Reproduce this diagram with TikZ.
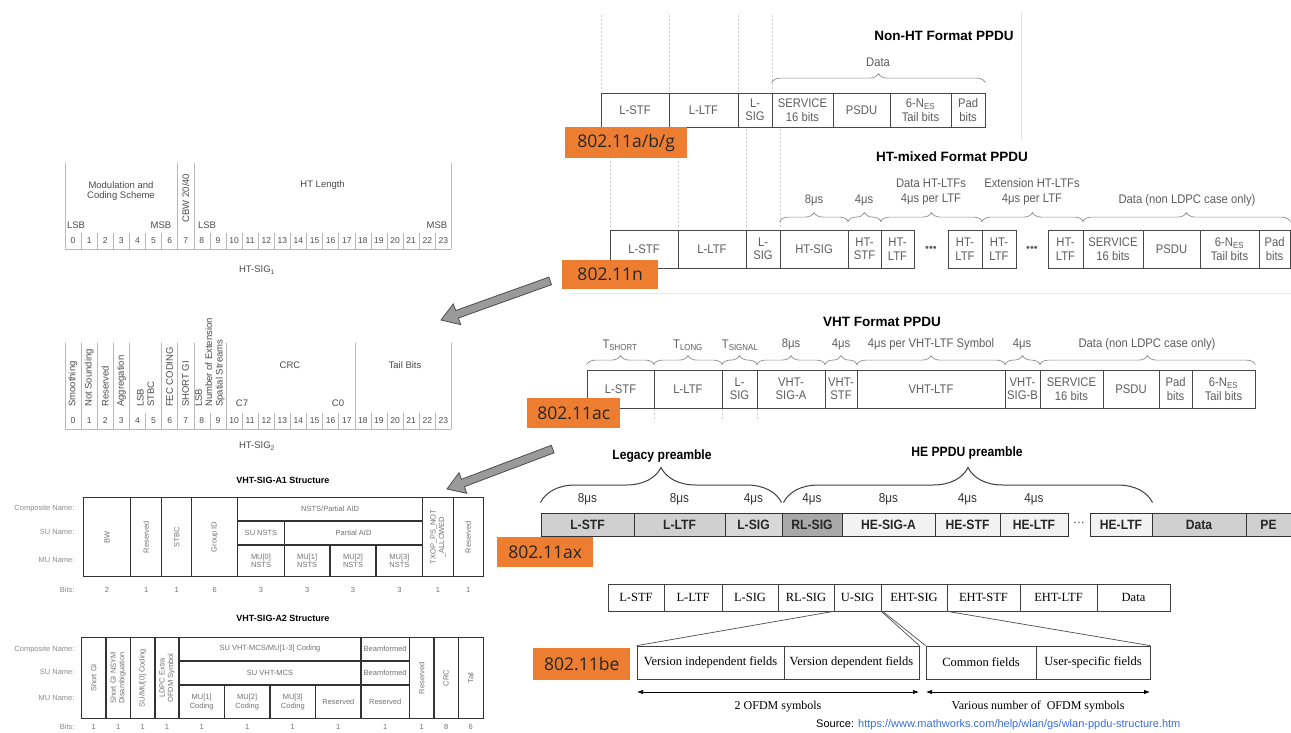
\documentclass[tikz,border=0pt]{standalone}
\usepackage{fontspec}
\setmainfont{Liberation Sans}
\newfontfamily\nar[FakeStretch=0.9]{Liberation Sans}
\newfontfamily\serf{Liberation Serif}
\newfontfamily\lbl{Open Sans}
\usetikzlibrary{decorations.pathreplacing,arrows.meta}
\definecolor{orng}{HTML}{ED7D31}
\definecolor{txg}{HTML}{5E5E5E}
\definecolor{lg}{HTML}{8C8C8C}
\definecolor{heA}{HTML}{D0D0D0}
\definecolor{heB}{HTML}{D8D8D8}
\definecolor{heC}{HTML}{A8A8A8}
\definecolor{heD}{HTML}{F2F2F2}
\definecolor{urlc}{HTML}{3A6FD8}
\definecolor{arrg}{HTML}{9A9A9A}
\newcommand\fs[2]{\fontsize{#1}{#2}\selectfont}
\newcommand\fb[7][]{\node[fld,#1,minimum width={#4-#3},minimum height={#6-#5}] (#2) at ({(#3+#4)/2},{(#5+#6)/2}) {#7};}
\tikzset{
  fld/.style={draw=black!72,line width=0.8pt,inner sep=0pt,align=center,text=txg,font=\nar\fs{12.5}{13.5}},
  hefld/.style={draw=black!80,line width=1pt,text=black!85,font=\nar\bfseries\fs{13.5}{14}},
  befld/.style={draw=black!75,line width=0.7pt,text=black,font=\serf\fs{12.5}{13}},
  tag/.style={fill=orng,text=black!85,font=\lbl\fs{17.5}{17.5},inner sep=0pt,anchor=north west},
  brc/.style={decorate,decoration={brace,amplitude=9pt},draw=lg,line width=0.7pt},
  bigbrc/.style={decorate,decoration={brace,amplitude=35pt},draw=black!75,line width=1pt},
  lab/.style={text=txg,font=\nar\fs{12.5}{15},align=center},
  helab/.style={text=black!80,font=\nar\fs{13}{13}},
  hettl/.style={text=black,font=\nar\bfseries\fs{13.5}{14}},
  ttl/.style={font=\bfseries\fs{13.5}{14},text=black},
  bgd/.style={draw=gray!40,dash pattern=on 2pt off 2pt,line width=0.6pt},
  sl/.style={draw=black!28,line width=0.6pt},
  st/.style={text=black!70,font=\fs{9.5}{10.5},align=center},
  bitn/.style={text=black!70,font=\fs{8.5}{9}},
  rot/.style={text=black!70,font=\fs{9.5}{10.3},align=left,rotate=90,anchor=west,inner sep=0pt},
  tl/.style={draw=black!80,line width=1.1pt},
  tt/.style={text=black!55,font=\fs{7.5}{8.5},align=center},
  trot/.style={tt,rotate=90},
  rl/.style={text=black!45,font=\fs{7.5}{8.5},anchor=east},
  stt/.style={font=\bfseries\fs{9}{10},text=black},
  beln/.style={draw=black!70,line width=0.7pt},
  bela/.style={text=black,font=\serf\fs{12}{12}},
  ofa/.style={draw=black,line width=0.8pt,{Latex[length=6pt,width=4.5pt]}-{Latex[length=6pt,width=4.5pt]}},
  blk/.style={fill=arrg,draw=black!70,line width=0.8pt,line join=miter},
}
\begin{document}
\begin{tikzpicture}[x=1pt,y=-1pt]
\useasboundingbox (0,0) rectangle (1291,732);
\fill[white] (0,0) rectangle (1291,732);

% ---------- background dashed guide lines ----------
\foreach \xx in {601,669,738,772} \draw[bgd] (\xx,15) -- (\xx,92);
\draw[draw=gray!22,line width=0.6pt] (1021,12) -- (1021,140);
\foreach \xx in {610,678,746,780} \draw[bgd] (\xx,129) -- (\xx,229);
\foreach \xx in {654,722,757} \draw[bgd] (\xx,409) -- (\xx,421);
\draw[draw=gray!18,line width=0.6pt] (570,293) -- (1291,293);

% ---------- Non-HT ----------
\node[ttl] (nT) at (944,36) {Non-HT Format PPDU};
\fb{n1}{601}{669}{93}{127}{L-STF}
\fb{n2}{669}{738}{93}{127}{L-LTF}
\fb{n3}{738}{772}{93}{127}{L-\\SIG}
\fb{n4}{772}{833}{93}{127}{SERVICE\\16 bits}
\fb{n5}{833}{890}{93}{127}{PSDU}
\fb{n6}{890}{951}{93}{127}{6-N\textsubscript{ES}\\Tail bits}
\fb{n7}{951}{985}{93}{127}{Pad\\bits}
\draw[brc] ([yshift=10pt]n4.north west) -- ([yshift=10pt]n7.north east);
\node[lab] (nData) at (878,62) {Data};

% ---------- HT-mixed ----------
\node[ttl] (hT) at (952,157) {HT-mixed Format PPDU};
\fb{h1}{610}{678}{230}{268}{L-STF}
\fb{h2}{678}{746}{230}{268}{L-LTF}
\fb{h3}{746}{780}{230}{268}{L-\\SIG}
\fb{h4}{780}{848}{230}{268}{HT-SIG}
\fb{h5}{848}{881}{230}{268}{HT-\\STF}
\fb{h6}{881}{914}{230}{268}{HT-\\LTF}
\node[lab,font=\fs{11}{11}] (hd1) at (931,249) {•••};
\fb{h7}{948}{982}{230}{268}{HT-\\LTF}
\fb{h8}{982}{1016}{230}{268}{HT-\\LTF}
\node[lab,font=\fs{11}{11}] (hd2) at (1032,249) {•••};
\fb{h9}{1048}{1083}{230}{268}{HT-\\LTF}
\fb{h10}{1083}{1143}{230}{268}{SERVICE\\16 bits}
\fb{h11}{1143}{1200}{230}{268}{PSDU}
\fb{h12}{1200}{1259}{230}{268}{6-N\textsubscript{ES}\\Tail bits}
\fb{h13}{1259}{1290}{230}{268}{Pad\\bits}
\draw[brc] ([yshift=8pt]h4.north west) -- ([yshift=8pt]h4.north east);
\draw[brc] ([yshift=8pt]h5.north west) -- ([yshift=8pt]h5.north east);
\draw[brc] ([yshift=8pt]h6.north west) -- ([yshift=8pt]h7.north east);
\draw[brc] ([yshift=8pt]h8.north west) -- ([yshift=8pt]h9.north east);
\draw[brc] ([yshift=8pt]h10.north west) -- ([yshift=8pt]h13.north east);
\node[lab] (hl1) at (814,200) {8μs};
\node[lab] (hl2) at (864,200) {4μs};
\node[lab] (hl3) at (931,192) {Data HT-LTFs\\4μs per LTF};
\node[lab] (hl4) at (1032,192) {Extension HT-LTFs\\4μs per LTF};
\node[lab] (hl5) at (1187,200) {Data (non LDPC case only)};

% ---------- VHT ----------
\node[ttl] (vT) at (882,322) {VHT Format PPDU};
\fb{v1}{587}{654}{370}{408}{L-STF}
\fb{v2}{654}{722}{370}{408}{L-LTF}
\fb{v3}{722}{757}{370}{408}{L-\\SIG}
\fb{v4}{757}{825}{370}{408}{VHT-\\SIG-A}
\fb{v5}{825}{857}{370}{408}{VHT-\\STF}
\fb{v6}{857}{1005}{370}{408}{VHT-LTF}
\fb{v7}{1005}{1040}{370}{408}{VHT-\\SIG-B}
\fb{v8}{1040}{1103}{370}{408}{SERVICE\\16 bits}
\fb{v9}{1103}{1159}{370}{408}{PSDU}
\fb{v10}{1159}{1192}{370}{408}{Pad\\bits}
\fb{v11}{1192}{1255}{370}{408}{6-N\textsubscript{ES}\\Tail bits}
\foreach \b in {v1,v2,v3,v4,v5,v6,v7}
  \draw[brc] ([yshift=5pt]\b.north west) -- ([yshift=5pt]\b.north east);
\draw[brc] ([yshift=5pt]v8.north west) -- ([yshift=5pt]v11.north east);
\node[lab] (vl1) at (620,345) {T\textsubscript{SHORT}};
\node[lab] (vl2) at (688,345) {T\textsubscript{LONG}};
\node[lab] (vl3) at (740,345) {T\textsubscript{SIGNAL}};
\node[lab] (vl4) at (791,344) {8μs};
\node[lab] (vl5) at (841,344) {4μs};
\node[lab] (vl6) at (931,344) {4μs per VHT-LTF Symbol};
\node[lab] (vl7) at (1022,344) {4μs};
\node[lab] (vl8) at (1147,344) {Data (non LDPC case only)};

% ---------- HE (802.11ax) ----------
\node[hettl] (legT) at (662,456) {Legacy preamble};
\node[hettl] (heT) at (967,453) {HE PPDU preamble};
\fb[hefld,fill=heA]{x1}{541}{634}{513}{536}{L-STF}
\fb[hefld,fill=heA]{x2}{634}{725}{513}{536}{L-LTF}
\fb[hefld,fill=heB]{x3}{725}{782}{513}{536}{L-SIG}
\fb[hefld,fill=heC]{x4}{782}{842}{513}{536}{RL-SIG}
\fb[hefld,fill=heD]{x5}{842}{935}{513}{536}{HE-SIG-A}
\fb[hefld,fill=heD]{x6}{935}{1000}{513}{536}{HE-STF}
\fb[hefld,fill=heD]{x7}{1000}{1068}{513}{536}{HE-LTF}
\node[helab] (xd) at (1079,524) {···};
\fb[hefld,fill=heD]{x8}{1090}{1152}{513}{536}{HE-LTF}
\fb[hefld,fill=heA]{x9}{1152}{1246}{513}{536}{Data}
\fb[hefld,fill=heA]{x10}{1246}{1291}{513}{536}{PE}
\draw[bigbrc] ([yshift=10pt]x1.north west) -- ([xshift=-1pt,yshift=10pt]x3.north east);
\draw[bigbrc] ([xshift=2pt,yshift=10pt]x4.north west) -- ([yshift=10pt]x8.north east);
\foreach \b/\t in {x1/8μs,x2/8μs,x3/4μs,x4/4μs,x5/8μs,x6/4μs,x7/4μs}
  \node[helab] (t\b) at ([yshift=25pt]\b.center) {\t};

% ---------- EHT (802.11be) ----------
\fb[befld]{e1}{608}{664}{584}{611}{L-STF}
\fb[befld]{e2}{664}{722}{584}{611}{L-LTF}
\fb[befld]{e3}{722}{778}{584}{611}{L-SIG}
\fb[befld]{e4}{778}{834}{584}{611}{RL-SIG}
\fb[befld]{e5}{834}{881}{584}{611}{U-SIG}
\fb[befld]{e6}{881}{947}{584}{611}{EHT-SIG}
\fb[befld]{e7}{947}{1020}{584}{611}{EHT-STF}
\fb[befld]{e8}{1020}{1097}{584}{611}{EHT-LTF}
\fb[befld]{e9}{1097}{1170}{584}{611}{Data}
\fb[befld]{f1}{637}{784}{646}{679}{Version independent fields}
\fb[befld]{f2}{784}{919}{646}{679}{Version dependent fields}
\fb[befld]{f3}{926}{1036}{646}{679}{Common fields}
\fb[befld]{f4}{1036}{1150}{646}{679}{User-specific fields}
\draw[beln] (e5.south west) -- (f1.north west);
\draw[beln] (e5.south east) -- (f2.north east);
\draw[beln] ([xshift=2pt]e6.south west) -- (f3.north west);
\draw[beln] (e6.south east) -- (f4.north east);
\coordinate (oa1) at (637,692);
\coordinate (oa2) at (919,692);
\coordinate (ob1) at (926,692);
\coordinate (ob2) at (1150,692);
\draw[ofa] (oa1) -- (oa2);
\draw[ofa] (ob1) -- (ob2);
\node[bela] (ol1) at (778,707) {2 OFDM symbols};
\node[bela] (ol2) at (1038,707) {Various number of\ \ OFDM symbols};
\node[anchor=west,font=\fs{11}{11},inner sep=0pt] (src) at (816,725) {Source: \textcolor{urlc}{https://www.mathworks.com/help/wlan/gs/wlan-ppdu-structure.htm}};

% ---------- HT-SIG1 ----------
\foreach \i in {1,...,6} \draw[sl] ({65+16.1*\i},233) -- ({65+16.1*\i},249);
\foreach \i in {9,...,23} \draw[sl] ({65+16.1*\i},233) -- ({65+16.1*\i},249);
\foreach \i in {0,7,8,24} \draw[sl] ({65+16.1*\i},163) -- ({65+16.1*\i},249);
\draw[sl] (65,249) -- (451.4,249);
\foreach \i in {0,...,23} \node[bitn] (ba\i) at ({65+16.1*(\i+0.5)},241) {\i};
\node[st] (mcs) at (121,191) {Modulation and\\Coding Scheme};
\node[st] (htl) at (322.6,185) {HT Length};
\node[st,rotate=90] (cbw) at (185.7,198) {CBW 20/40};
\node[st] (l1) at (76,225) {LSB};
\node[st] (m1) at (161,225) {MSB};
\node[st] (l2) at (207,225) {LSB};
\node[st] (m2) at (437,225) {MSB};
\node[st] (hs1) at (257,270) {HT-SIG\textsubscript{1}};

% ---------- HT-SIG2 ----------
\foreach \i in {5,9,11,12,13,14,15,16,17,19,20,21,22,23} \draw[sl] ({65+16.1*\i},413) -- ({65+16.1*\i},429);
\foreach \i in {0,1,2,3,4,6,7,8,10,18,24} \draw[sl] ({65+16.1*\i},343) -- ({65+16.1*\i},429);
\draw[sl] (65,429) -- (451.4,429);
\foreach \i in {0,...,23} \node[bitn] (bb\i) at ({65+16.1*(\i+0.5)},421) {\i};
\node[rot] (r0) at (73,407) {Smoothing};
\node[rot] (r1) at (89.2,407) {Not Sounding};
\node[rot] (r2) at (105.3,407) {Reserved};
\node[rot] (r3) at (121.4,407) {Aggregation};
\node[rot] (r45) at (145.6,407) {LSB\\STBC};
\node[rot] (r6) at (169.6,407) {FEC CODING};
\node[rot] (r7) at (185.7,407) {SHORT GI};
\node[rot] (r89) at (209.9,407) {LSB\\Number of Extension\\Spatial Streams};
\node[st] (crc) at (290,365) {CRC};
\node[st] (tb) at (405,365) {Tail Bits};
\node[st] (c7) at (242,403) {C7};
\node[st] (c0) at (338,403) {C0};
\node[st] (hs2) at (257,446) {HT-SIG\textsubscript{2}};

% ---------- VHT-SIG-A1 ----------
\node[stt] (a1T) at (283,480) {VHT-SIG-A1 Structure};
\draw[tl] (83.3,497.3) rectangle (483.3,576.7);
\foreach \xx in {130.7,161.7,191.7,237.7,422.7,453.3} \draw[tl] (\xx,497.3) -- (\xx,576.7);
\draw[tl] (237.7,521) -- (422.7,521);
\draw[tl] (237.7,545) -- (422.7,545);
\draw[tl] (284.3,521) -- (284.3,576.7);
\foreach \xx in {330,376} \draw[tl] (\xx,545) -- (\xx,576.7);
\node[tt] (a1c) at (330.2,509) {NSTS/Partial AID};
\node[tt] (a1s1) at (261,533) {SU NSTS};
\node[tt] (a1s2) at (353.5,533) {Partial AID};
\node[tt] (a1m0) at (261,561) {MU[0]\\NSTS};
\node[tt] (a1m1) at (307.2,561) {MU[1]\\NSTS};
\node[tt] (a1m2) at (353,561) {MU[2]\\NSTS};
\node[tt] (a1m3) at (399.4,561) {MU[3]\\NSTS};
\node[trot] (a1bw) at (107,537) {BW};
\node[trot] (a1r1) at (146.2,537) {Reserved};
\node[trot] (a1st) at (176.7,537) {STBC};
\node[trot] (a1g) at (214.7,537) {Group ID};
\node[trot] (a1tx) at (438,537) {TXOP\_PS\_NOT\\\_ALLOWED};
\node[trot] (a1r2) at (468.3,537) {Reserved};
\node[rl] (a1l1) at (78,509) {Composite Name:};
\node[rl] (a1l2) at (78,532) {SU Name:};
\node[rl] (a1l3) at (78,560) {MU Name:};
\node[rl] (a1l4) at (78,590) {Bits:};
\foreach \xx/\v [count=\k] in {107/2,146.2/1,176.7/1,214.7/6,261/3,307.2/3,353/3,399.4/3,438/1,468.3/1}
  \node[tt] (a1b\k) at (\xx,590) {\v};

% ---------- VHT-SIG-A2 ----------
\node[stt] (a2T) at (283,618) {VHT-SIG-A2 Structure};
\draw[tl] (81.7,637.3) rectangle (483.3,718.3);
\foreach \xx in {106,130.7,155,179,361,409.3,434,458.3} \draw[tl] (\xx,637.3) -- (\xx,718.3);
\draw[tl] (179,661) -- (409.3,661);
\draw[tl] (179,685) -- (409.3,685);
\foreach \xx in {224.3,270,315.7} \draw[tl] (\xx,685) -- (\xx,718.3);
\node[tt] (a2c1) at (270,649) {SU VHT-MCS/MU[1-3] Coding};
\node[tt] (a2c2) at (385.2,649) {Beamformed};
\node[tt] (a2s1) at (270,673) {SU VHT-MCS};
\node[tt] (a2s2) at (385.2,673) {Beamformed};
\node[tt] (a2m1) at (201.7,702) {MU[1]\\Coding};
\node[tt] (a2m2) at (247.2,702) {MU[2]\\Coding};
\node[tt] (a2m3) at (292.8,702) {MU[3]\\Coding};
\node[tt] (a2m4) at (338.3,702) {Reserved};
\node[tt] (a2m5) at (385.2,702) {Reserved};
\node[trot] (a2r1) at (93.8,678) {Short GI};
\node[trot] (a2r2) at (118.3,678) {Short GI NSYM\\Disambiguation};
\node[trot] (a2r3) at (142.8,678) {SU/MU[0] Coding};
\node[trot] (a2r4) at (167,678) {LDPC Extra\\OFDM Symbol};
\node[trot] (a2r5) at (421.6,678) {Reserved};
\node[trot] (a2r6) at (446.1,678) {CRC};
\node[trot] (a2r7) at (470.8,678) {Tail};
\node[rl] (a2l1) at (78,650) {Composite Name:};
\node[rl] (a2l2) at (78,672) {SU Name:};
\node[rl] (a2l3) at (78,698) {MU Name:};
\node[rl] (a2l4) at (78,727) {Bits:};
\foreach \xx/\v [count=\k] in {93.8/1,118.3/1,142.8/1,167/1,201.7/1,247.2/1,292.8/1,338.3/1,385.2/1,421.6/1,446.1/8,470.8/6}
  \node[tt] (a2b\k) at (\xx,727) {\v};

% ---------- block arrows ----------
\begin{scope}[shift={(441,320)},rotate=19.7]
\draw[blk] (0,0) -- (17,-11) -- (17,-4) -- (116,-4) -- (116,4) -- (17,4) -- (17,11) -- cycle;
\end{scope}
\begin{scope}[shift={(447,489)},rotate=20.7]
\draw[blk] (0,0) -- (17,-11) -- (17,-4) -- (113,-4) -- (113,4) -- (17,4) -- (17,11) -- cycle;
\end{scope}

% ---------- orange tags ----------
\node[tag,minimum width=122,minimum height=31] (tg1) at (565,127) {802.11a/b/g};
\node[tag,minimum width=96,minimum height=29] (tg2) at (562,260) {802.11n};
\node[tag,minimum width=93,minimum height=30] (tg3) at (527,398) {802.11ac};
\node[tag,minimum width=96,minimum height=30] (tg4) at (497,537) {802.11ax};
\node[tag,minimum width=97,minimum height=32] (tg5) at (533,648) {802.11be};
\end{tikzpicture}
\end{document}
